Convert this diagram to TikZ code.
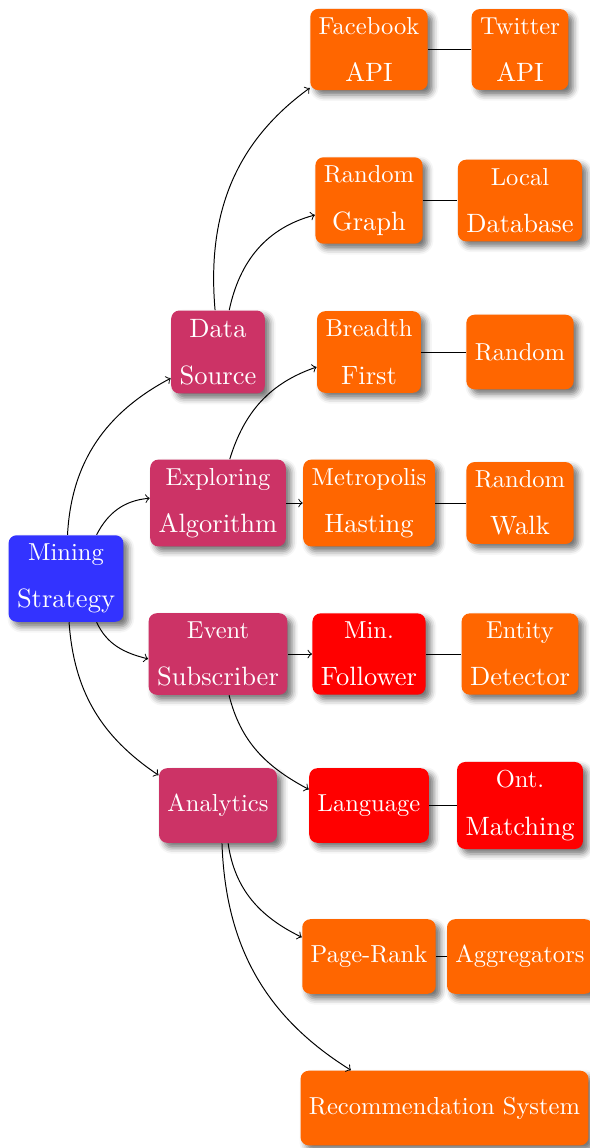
\documentclass[tikz,border=0pt]{standalone}
\usetikzlibrary{shadows.blur}

\definecolor{rootblue}{RGB}{51,51,255}
\definecolor{catpink}{RGB}{204,51,102}
\definecolor{leaforange}{RGB}{255,102,0}
\definecolor{leafred}{RGB}{255,0,0}

% two centred lines, the second one set slightly larger
\newcommand\twoline[3][10]{\vbox{\baselineskip=19.3pt\lineskiplimit=0pt\lineskip=0pt
  \halign{\hfil##\hfil\cr
    \fontsize{#1}{12}\selectfont #2\cr
    \fontsize{10.8}{13}\selectfont #3\cr}}}

\tikzset{
  box/.style={rounded corners=3.3pt, text=white, inner sep=3.45pt,
    minimum height=30.4pt,
    blur shadow={shadow xshift=2pt, shadow yshift=-2pt,
      shadow blur radius=2.4pt, shadow opacity=55}},
  root/.style={box, fill=rootblue},
  cat/.style={box, fill=catpink},
  leaf/.style={box, fill=leaforange},
  hot/.style={box, fill=leafred},
  arr/.style={->},
}

\begin{document}
\begin{tikzpicture}[x=0.4076pt, y=0.4076pt]
\useasboundingbox (0,0) rectangle (590,-1148);

% root and categories
\node[root] (mining)    at (66,-578.5)  {\twoline{Mining}{Strategy}};
\node[cat]  (datasrc)   at (218,-352)   {\twoline[10.8]{Data}{Source}};
\node[cat]  (explore)   at (218,-503)   {\twoline{Exploring}{Algorithm}};
\node[cat]  (event)     at (218,-654)   {\twoline{Event}{Subscriber}};
\node[cat]  (analytics) at (218,-805.5) {Analytics};

% second column
\node[leaf] (facebook)  at (369,-49.5)  {\twoline{Facebook}{API}};
\node[leaf] (randgraph) at (369,-200.5) {\twoline{Random}{Graph}};
\node[leaf] (breadth)   at (369,-352)   {\twoline{Breadth}{First}};
\node[leaf] (metro)     at (369,-503)   {\twoline{Metropolis}{Hasting}};
\node[hot]  (minfol)    at (369,-654)   {\twoline{Min.}{Follower}};
\node[hot]  (language)  at (369,-805.5) {Language};
\node[leaf] (pagerank)  at (369,-956.5) {Page-Rank};
\node[leaf] (recsys)    at (444.5,-1108) {Recommendation System};

% third column
\node[leaf] (twitter)   at (520,-49.5)  {\twoline{Twitter}{API}};
\node[leaf] (localdb)   at (520,-200.5) {\twoline{Local}{Database}};
\node[leaf] (random)    at (520,-352)   {Random};
\node[leaf] (rwalk)     at (520,-503)   {\twoline{Random}{Walk}};
\node[leaf] (entity)    at (520,-654)   {\twoline{Entity}{Detector}};
\node[hot]  (ontmatch)  at (520,-805.5) {\twoline{Ont.}{Matching}};
\node[leaf] (aggr)      at (520,-956.5) {Aggregators};

% curved arrows
\draw[arr] (mining.88)     to[out=87,in=208]  (datasrc.209);
\draw[arr] (mining.55)     to[out=63,in=185]  (explore.176);
\draw[arr] (mining.-55)    to[out=-65,in=166] (event.184);
\draw[arr] (mining.-86)    to[out=-86,in=146] (analytics.153);
\draw[arr] (datasrc.94)    to[out=95,in=216]  (facebook.213);
\draw[arr] (datasrc.75)    to[out=78,in=195]  (randgraph.195);
\draw[arr] (explore.75)    to[out=73,in=199]  (breadth.196);
\draw[arr] (event.-75)     to[out=-76,in=152] (language.165);
\draw[arr] (analytics.-75) to[out=-82,in=154] (pagerank.164);
\draw[arr] (analytics.-84) to[out=-88,in=148] (recsys.158);

% straight arrows
\draw[arr] (explore) -- (metro);
\draw[arr] (event) -- (minfol);

% plain links
\draw (facebook) -- (twitter);
\draw (randgraph) -- (localdb);
\draw (breadth) -- (random);
\draw (metro) -- (rwalk);
\draw (minfol) -- (entity);
\draw (language) -- (ontmatch);
\draw (pagerank) -- (aggr);
\end{tikzpicture}
\end{document}
